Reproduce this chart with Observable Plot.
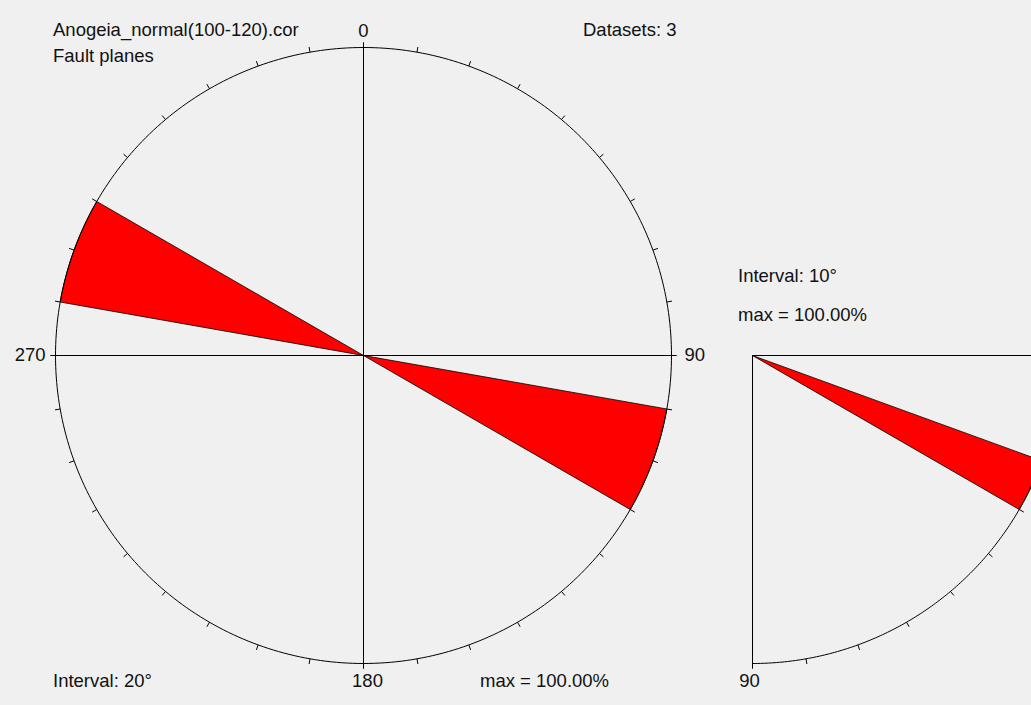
<!DOCTYPE html>
<html><head><meta charset="utf-8">
<script src="https://cdn.jsdelivr.net/npm/d3@7"></script>
<script src="https://cdn.jsdelivr.net/npm/@observablehq/plot@0.6"></script>
<style>
html,body{margin:0;padding:0;background:#f0f0f0;}
#wrap{position:relative;width:1031px;height:705px;overflow:hidden;background:#f0f0f0;font-family:"Liberation Sans",Arial,sans-serif;font-size:18.5px;color:#111;}
.note{position:absolute;white-space:nowrap;line-height:1;}
#left{position:absolute;left:0;top:0;width:740px;height:705px;}
#right{position:absolute;left:740px;top:0;width:330px;height:705px;}
</style></head><body>
<div id="wrap">
  <div id="left"></div>
  <div id="right"></div>
</div>
<script>
// ---- data ----
const fileName = "Anogeia_normal(100-120).cor";
const dataType = "Fault planes";
const datasetCount = 3;
// strike rose (bidirectional)
const strikeBinStarts = [100];
const strikeInterval = 20;
const strikePercents = [100];
const strikeMax = 100;
// dip quadrant
const dipBinStarts = [20];
const dipInterval = 10;
const dipPercents = [100];
const dipMax = 100;
// tick labels
const azimuthTickAngles = [0, 90, 180, 270];
const azimuthTickLabels = ["0", "90", "180", "270"];
const dipTickAngles = [90];
const dipTickLabels = ["90"];

const FONT = '"Liberation Sans", Arial, sans-serif';
const wrap = document.getElementById("wrap");
function note(text, left, top) {
  const d = document.createElement("div");
  d.className = "note"; d.textContent = text;
  d.style.left = left + "px"; d.style.top = top + "px";
  wrap.appendChild(d);
}
note(fileName, 53, 21);
note(dataType, 53, 47);
note(`Datasets: ${datasetCount}`, 583, 21);
note(`Interval: ${strikeInterval}°`, 53, 672);
note(`max = ${strikeMax.toFixed(2)}%`, 480, 672);
note(`Interval: ${dipInterval}°`, 738, 267);
note(`max = ${dipMax.toFixed(2)}%`, 738, 306);

// ---- left: strike rose ----
const R = strikeMax;
const rad = a => a * Math.PI / 180;
const polar = (az, r) => ({x: r * Math.sin(rad(az)), y: r * Math.cos(rad(az))});

const strikeSectors = [];
strikeBinStarts.forEach((s, i) => {
  const v = strikePercents[i] / strikeMax * R;
  for (const off of [0, 180]) {
    const id = "s" + (s + off);
    strikeSectors.push({id, x: 0, y: 0});
    for (let a = s + off; a <= s + off + strikeInterval; a += 1) strikeSectors.push({id, ...polar(a, v)});
    strikeSectors.push({id, x: 0, y: 0});
  }
});
const circle = d3.range(0, 361, 1).map(a => polar(a, R));
const ticks = d3.range(0, 360, 10).map(a => {
  const p = polar(a, R), q = polar(a, R * 1.017);
  return {x1: p.x, y1: p.y, x2: q.x, y2: q.y};
});
const axesLines = [{x1: 0, y1: -R, x2: 0, y2: R}, {x1: -R, y1: 0, x2: R, y2: 0}];
const azLabels = azimuthTickAngles.map((a, i) => ({a, label: azimuthTickLabels[i], ...polar(a, R)}));
const lab = a => azLabels.filter(d => d.a === a);
const textOpts = {x: "x", y: "y", text: "label", fill: "#111", fontSize: 18.5, fontFamily: FONT};

const left = Plot.plot({
  width: 740, height: 705,
  marginLeft: 55, marginRight: 69, marginTop: 47, marginBottom: 42,
  x: {domain: [-R, R], axis: null},
  y: {domain: [-R, R], axis: null},
  style: {background: "transparent", maxWidth: "none", overflow: "visible", fontFamily: FONT},
  marks: [
    Plot.line(strikeSectors, {x: "x", y: "y", z: "id", fill: "#ff0000", stroke: "#000", strokeWidth: 0.8, curve: "linear"}),
    Plot.line(circle, {x: "x", y: "y", stroke: "#000", strokeWidth: 1, curve: "linear"}),
    Plot.link(axesLines, {x1: "x1", y1: "y1", x2: "x2", y2: "y2", stroke: "#000", strokeWidth: 1}),
    Plot.link(ticks, {x1: "x1", y1: "y1", x2: "x2", y2: "y2", stroke: "#000", strokeWidth: 1}),
    Plot.text(lab(0), {...textOpts, dy: -16}),
    Plot.text(lab(90), {...textOpts, textAnchor: "start", dx: 13}),
    Plot.text(lab(180), {...textOpts, dx: 4, dy: 18}),
    Plot.text(lab(270), {...textOpts, textAnchor: "end", dx: -10})
  ]
});
document.getElementById("left").appendChild(left);

// ---- right: dip quadrant ----
const D = dipMax;
const dpolar = (d, r) => ({x: r * Math.cos(rad(d)), y: r * Math.sin(rad(d))});
const dipSectors = [];
dipBinStarts.forEach((s, i) => {
  const v = dipPercents[i] / dipMax * D;
  const id = "d" + s;
  dipSectors.push({id, x: 0, y: 0});
  for (let a = s; a <= s + dipInterval; a += 0.5) dipSectors.push({id, ...dpolar(a, v)});
  dipSectors.push({id, x: 0, y: 0});
});
const arc = d3.range(0, 90.5, 0.5).map(a => dpolar(a, D));
const dipTicks = d3.range(0, 91, 10).map(a => {
  const p = dpolar(a, D), q = dpolar(a, D * 1.017);
  return {x1: p.x, y1: p.y, x2: q.x, y2: q.y};
});
const dipLines = [{x1: 0, y1: 0, x2: 0, y2: D}, {x1: 0, y1: 0, x2: D, y2: 0}];
const dipLabels = dipTickAngles.map((a, i) => ({label: dipTickLabels[i], ...dpolar(a, D)}));

const right = Plot.plot({
  width: 330, height: 705,
  marginLeft: 12, marginRight: 10, marginTop: 355, marginBottom: 42,
  x: {domain: [0, D], axis: null},
  y: {domain: [0, D], reverse: true, axis: null},
  style: {background: "transparent", maxWidth: "none", overflow: "visible", fontFamily: FONT},
  marks: [
    Plot.line(dipSectors, {x: "x", y: "y", z: "id", fill: "#ff0000", stroke: "#000", strokeWidth: 0.8, curve: "linear"}),
    Plot.line(arc, {x: "x", y: "y", stroke: "#000", strokeWidth: 1, curve: "linear"}),
    Plot.link(dipLines, {x1: "x1", y1: "y1", x2: "x2", y2: "y2", stroke: "#000", strokeWidth: 1}),
    Plot.link(dipTicks, {x1: "x1", y1: "y1", x2: "x2", y2: "y2", stroke: "#000", strokeWidth: 1}),
    Plot.text(dipLabels, {...textOpts, dx: -3, dy: 18})
  ]
});
document.getElementById("right").appendChild(right);
</script>
</body></html>
